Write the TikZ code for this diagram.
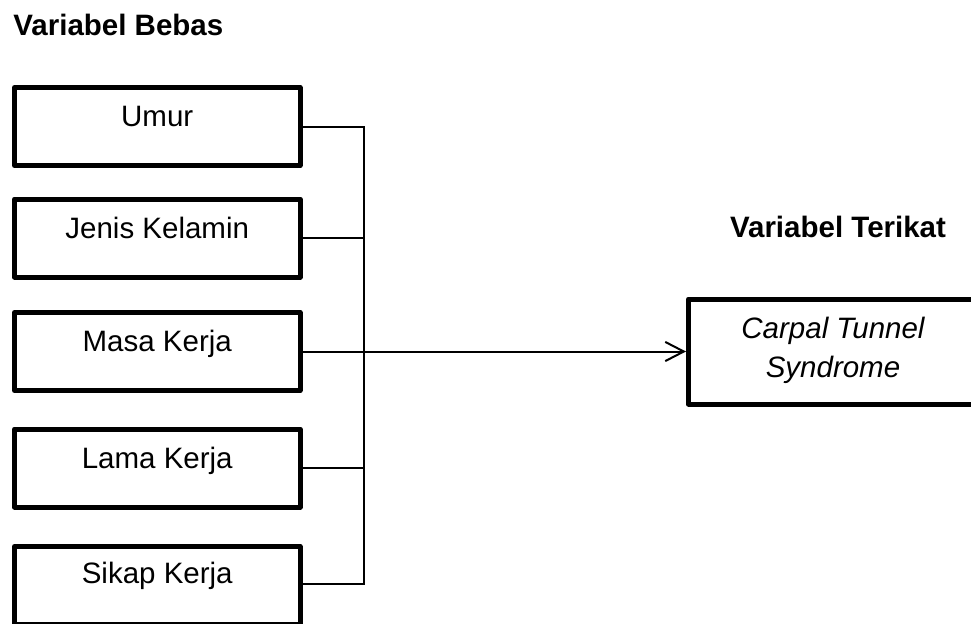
\documentclass[tikz,border=0pt]{standalone}
\usepackage{fontspec}
\setmainfont{Liberation Sans}
\usetikzlibrary{arrows.meta}
\tikzset{
  varbox/.style={draw, line width=2.5pt, line join=round, rectangle, inner sep=0pt,
    minimum width=142.75pt, minimum height=39pt},
  ctbox/.style={draw, line width=2.5pt, line join=round, rectangle, inner sep=0pt,
    minimum width=145pt, minimum height=52.5pt},
  lbl/.style={anchor=base, inner sep=0pt, font=\fontsize{14.75pt}{19.5pt}\selectfont},
  head/.style={anchor=base west, inner sep=0pt, font=\fontsize{14.75pt}{19.5pt}\selectfont\bfseries},
  wire/.style={line width=1pt},
  arr/.style={line width=1pt, -{Straight Barb[length=9.3pt, width=9.6pt, line width=1pt]}}
}
\begin{document}
\begin{tikzpicture}[x=0.5pt, y=-0.5pt]
\useasboundingbox (0,0) rectangle (971,623);
\clip (0,0) rectangle (971,623);
\node[head] (hb) at (13,35) {Variabel Bebas};
\node[head, anchor=base] (ht) at (838,237) {Variabel Terikat};

\node[varbox] (b1) at (157.25,126.5) {};
\node[varbox] (b2) at (157.25,238) {};
\node[varbox] (b3) at (157.25,351.5) {};
\node[varbox] (b4) at (157.25,468) {};
\node[varbox] (b5) at (157.25,585.5) {};

\node[lbl] (t1) at (b1.center) {Umur};
\node[lbl] (t2) at (b2.center) {Jenis Kelamin};
\node[lbl] (t3) at (b3.center) {Masa Kerja};
\node[lbl] (t4) at (b4.center) {Lama Kerja};
\node[lbl] (t5) at ([yshift=1pt]b5.center) {Sikap Kerja};

\node[ctbox] (cts) at (833.5,351.5) {};
\node[lbl, align=center] (ctt) at (833,377) {\itshape Carpal Tunnel\\\itshape Syndrome};

\coordinate (bt) at (364,126.5);
\coordinate (bb) at (364,583.5);
\draw[wire] (b1.east) -- (bt) -- (bb) -- (bb -| b5.east);
\draw[wire] (b2.east) -- (b2.east -| bt);
\draw[wire] (b4.east) -- (b4.east -| bt);
\draw[arr] (b3.east) -- (cts.west);
\end{tikzpicture}
\end{document}
